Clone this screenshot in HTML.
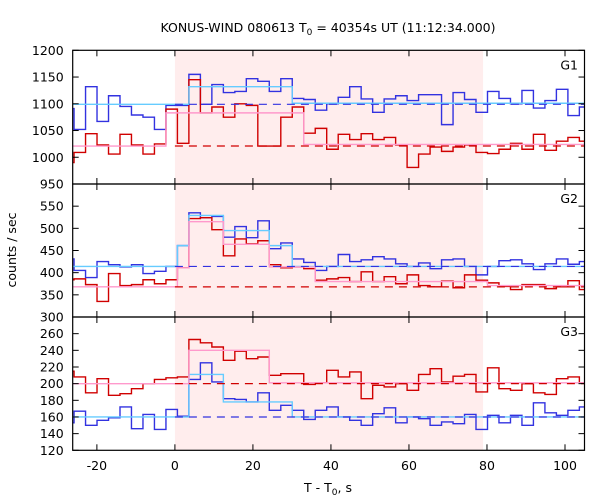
<!DOCTYPE html>
<html><head><meta charset="utf-8">
<style>
body{margin:0;background:#fff;}
svg{display:block;font-family:"DejaVu Sans","Liberation Sans",sans-serif;}
</style></head>
<body>
<svg id="chart" width="600" height="500" viewBox="0 0 600 500">
<defs><clipPath id="clipPlot"><rect x="72.7" y="50.3" width="511.8" height="400"/></clipPath></defs>
<text x="328" y="32" text-anchor="middle" font-size="12.5">KONUS-WIND 080613 T<tspan font-size="9" dy="3">0</tspan><tspan dy="-3"> = 40354s UT (11:12:34.000)</tspan></text>
<text x="328" y="492" text-anchor="middle" font-size="12.5">T - T<tspan font-size="9" dy="3">0</tspan><tspan dy="-3">, s</tspan></text>
<text x="16" y="250" text-anchor="middle" font-size="12.5" transform="rotate(-90 16 250)">counts / sec</text>
<g id="root"></g>
</svg>
<script>
var binTimes=[-28.80,-25.85,-22.91,-19.96,-17.02,-14.08,-11.13,-8.19,-5.24,-2.30,0.64,3.59,6.53,9.48,12.42,15.36,18.31,21.25,24.20,27.14,30.08,33.03,35.97,38.92,41.86,44.80,47.75,50.69,53.64,56.58,59.52,62.47,65.41,68.36,71.30,74.24,77.19,80.13,83.08,86.02,88.96,91.91,94.85,97.80,100.74,103.68];
var binWidth=2.944;
var g1Blue=[1091,1052,1132,1067,1115,1095,1079,1075,1052,1097,1097,1155,1099,1136,1121,1123,1147,1142,1123,1147,1110,1108,1088,1100,1112,1132,1109,1084,1109,1115,1106,1117,1117,1061,1121,1108,1084,1123,1110,1100,1125,1092,1106,1127,1078,1094];
var g1Red=[990,1009,1044,1023,1006,1043,1023,1006,1025,1090,1026,1145,1083,1094,1075,1100,1097,1021,1021,1075,1094,1045,1054,1015,1043,1033,1044,1033,1037,1023,981,1006,1019,1011,1019,1023,1009,1007,1015,1026,1015,1043,1013,1030,1037,1030];
var g2Blue=[431,405,389,425,418,413,418,398,403,414,461,535,524,527,480,504,479,517,454,467,431,423,405,414,441,425,429,436,431,420,414,422,409,429,431,414,395,414,427,429,420,407,420,431,419,425];
var g2Red=[384,386,373,335,398,371,373,384,375,384,411,522,524,497,438,476,465,472,418,411,413,409,383,386,389,380,402,380,391,375,395,371,368,381,366,395,383,377,369,362,373,373,364,368,382,362];
var g3Blue=[153,167,150,156,159,172,146,163,145,169,161,205,225,202,182,181,178,189,168,174,168,157,168,172,160,156,150,164,171,153,160,158,150,154,152,163,145,162,153,162,150,177,165,162,168,172];
var g3Red=[215,208,189,206,186,188,194,200,205,207,208,253,249,244,228,239,230,232,210,212,212,199,201,216,208,214,182,198,196,200,192,211,218,202,209,211,190,219,194,192,200,189,187,206,208,201];
var g1CyanStart=[-26.2,3.59,30.08], g1CyanEnd=[3.59,30.08,105], g1CyanVal=[1099,1132,1101];
var g1PinkStart=[-26.2,-2.3,33.03], g1PinkEnd=[-2.3,33.03,105], g1PinkVal=[1021,1083,1024];
var g2CyanStart=[-26.2,0.64,3.59,12.42,24.2,30.08], g2CyanEnd=[0.64,3.59,12.42,24.2,30.08,105], g2CyanVal=[414,461,529,495,461,414];
var g2PinkStart=[-26.2,0.64,3.59,12.42,24.2,35.97,80.13], g2PinkEnd=[0.64,3.59,12.42,24.2,35.97,80.13,105], g2PinkVal=[368,411,515,464,413,380,371];
var g3CyanStart=[-26.2,3.59,12.42,30.08], g3CyanEnd=[3.59,12.42,30.08,105], g3CyanVal=[160,211,178,160];
var g3PinkStart=[-26.2,3.59,24.2], g3PinkEnd=[3.59,24.2,105], g3PinkVal=[200,240,201];
var bgBlue=[1099,414,160], bgRed=[1021,368,200];
var xTicks=[-20,0,20,40,60,80,100];
var g1Ticks=[950,1000,1050,1100,1150,1200];
var g2Ticks=[300,350,400,450,500,550,600];
var g3Ticks=[120,140,160,180,200,220,240,260,280];
var g2Labels=[300,350,400,450,500,550];
var g3Labels=[120,140,160,180,200,220,240,260];
var panelNames=["G1","G2","G3"];
var intervalStart=0, intervalEnd=79;

var NS="http://www.w3.org/2000/svg";
var root=document.getElementById('root');
var X0=72.7,X1=584.5,T0=-26.2,T1=105;
function x(t){return X0+(t-T0)*(X1-X0)/(T1-T0);}
var panels=[{top:50.3,bot:184,min:950,max:1200},{top:184,bot:317,min:300,max:600},{top:317,bot:450.3,min:120,max:280}];
function mk(tag,attrs,parent){var e=document.createElementNS(NS,tag);for(var k in attrs)e.setAttribute(k,attrs[k]);(parent||root).appendChild(e);return e;}
function yf(p){return function(v){return p.bot-(v-p.min)*(p.bot-p.top)/(p.max-p.min);};}

// shaded interval
var sh=mk('rect',{x:x(intervalStart),y:50.3,width:x(intervalEnd)-x(intervalStart),height:400,fill:'#ffeded'});



var clipG=mk('g',{'clip-path':'url(#clipPlot)'});
function stepPath(vals,y){var d='';for(var i=0;i<vals.length;i++){var xa=x(binTimes[i]),xb=x(binTimes[i]+binWidth),yy=y(vals[i]);d+=(i==0?'M'+xa+','+yy:'V'+yy)+'H'+xb;}return d;}
function fitPath(s,e,v,y){var d='';for(var i=0;i<s.length;i++){d+=(i==0?'M'+x(s[i])+','+y(v[i]):'V'+y(v[i]))+'H'+x(e[i]);}return d;}
var data=[[g1Blue,g1Red,g1CyanStart,g1CyanEnd,g1CyanVal,g1PinkStart,g1PinkEnd,g1PinkVal],
[g2Blue,g2Red,g2CyanStart,g2CyanEnd,g2CyanVal,g2PinkStart,g2PinkEnd,g2PinkVal],
[g3Blue,g3Red,g3CyanStart,g3CyanEnd,g3CyanVal,g3PinkStart,g3PinkEnd,g3PinkVal]];
var ticksArr=[g1Ticks,g2Ticks,g3Ticks], labelsArr=[g1Ticks,g2Labels,g3Labels];
for(var p=0;p<3;p++){
  var P=panels[p],y=yf(P),D=data[p],n=p+1;
  var b=mk('path',{d:stepPath(D[0],y),fill:'none',stroke:'#3232e0','stroke-width':1.4},clipG);
  
  
  var r=mk('path',{d:stepPath(D[1],y),fill:'none',stroke:'#d00000','stroke-width':1.4},clipG);
  
  
  var c=mk('path',{d:fitPath(D[2],D[3],D[4],y),fill:'none',stroke:'#66ccff','stroke-width':1.4},clipG);
  
  
  var pk=mk('path',{d:fitPath(D[5],D[6],D[7],y),fill:'none',stroke:'#ff99cc','stroke-width':1.4},clipG);
  
  
  var db=mk('line',{x1:x(0),x2:x(T1),y1:y(bgBlue[p]),y2:y(bgBlue[p]),stroke:'#3232e0','stroke-width':1.2,'stroke-dasharray':'8,6'},clipG);
  
  
  var dr=mk('line',{x1:x(0),x2:x(T1),y1:y(bgRed[p]),y2:y(bgRed[p]),stroke:'#d00000','stroke-width':1.2,'stroke-dasharray':'8,6'},clipG);
  
  
  var fr=mk('rect',{x:X0,y:P.top,width:X1-X0,height:P.bot-P.top,fill:'none',stroke:'#000','stroke-width':1.2});
  
  
  var tk=ticksArr[p];
  for(var i=0;i<tk.length;i++){var yy=y(tk[i]);
    mk('line',{x1:X0,x2:X0+6,y1:yy,y2:yy,stroke:'#000','stroke-width':1});
    mk('line',{x1:X1-6,x2:X1,y1:yy,y2:yy,stroke:'#000','stroke-width':1});}
  var lb=labelsArr[p];
  for(var i=0;i<lb.length;i++){var t=mk('text',{x:X0-9,y:y(lb[i])+4.5,'text-anchor':'end','font-size':12.5});t.textContent=lb[i];
    
    }
  for(var i=0;i<xTicks.length;i++){var xx=x(xTicks[i]);
    mk('line',{x1:xx,x2:xx,y1:P.top,y2:P.top+6,stroke:'#000','stroke-width':1});
    mk('line',{x1:xx,x2:xx,y1:P.bot-6,y2:P.bot,stroke:'#000','stroke-width':1});}
  var nm=mk('text',{x:578,y:P.top+19,'text-anchor':'end','font-size':12.5});nm.textContent=panelNames[p];
  
  
}
for(var i=0;i<xTicks.length;i++){var t=mk('text',{x:x(xTicks[i]),y:470,'text-anchor':'middle','font-size':12.5});t.textContent=xTicks[i];
  
  }
</script>
</body></html>
